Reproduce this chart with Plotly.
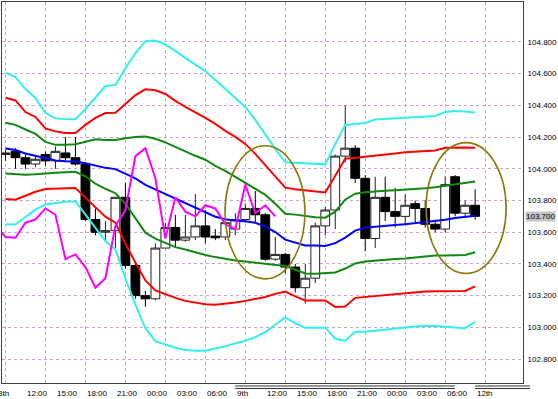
import plotly.graph_objects as go

# ---------------- data ----------------
bars = list(range(48))
opens = [104.09, 104.11, 104.07, 104.03, 104.09, 104.05, 104.10, 104.07, 104.03, 103.68,
         103.60, 103.61, 103.82, 103.39, 103.20, 103.18, 103.50, 103.63, 103.55, 103.57,
         103.64, 103.575, 103.57, 103.62, 103.68, 103.75, 103.71, 103.43, 103.46, 103.38,
         103.25, 103.31, 103.64, 103.74, 104.08, 104.13, 103.94, 103.56, 103.82, 103.73,
         103.70, 103.78, 103.75, 103.65, 103.62, 103.95, 103.72, 103.77]
highs = [104.12, 104.13, 104.09, 104.08, 104.11, 104.14, 104.20, 104.20, 104.04, 103.75,
         103.67, 103.82, 103.91, 103.40, 103.23, 103.53, 103.66, 103.71, 103.71, 103.84,
         103.74, 103.62, 103.68, 103.72, 103.78, 103.86, 103.72, 103.57, 103.47, 103.40,
         103.40, 103.66, 103.76, 104.09, 104.40, 104.15, 103.96, 103.95, 103.95, 103.88,
         103.84, 103.80, 103.80, 103.67, 103.95, 103.96, 103.80, 103.87]
lows = [104.05, 104.00, 104.00, 104.01, 104.02, 104.00, 104.05, 104.02, 103.67, 103.58,
        103.55, 103.50, 103.37, 103.18, 103.13, 103.17, 103.50, 103.50, 103.54, 103.55,
        103.53, 103.55, 103.55, 103.58, 103.66, 103.66, 103.42, 103.42, 103.34, 103.22,
        103.15, 103.28, 103.58, 103.62, 104.04, 103.91, 103.48, 103.50, 103.67, 103.63,
        103.65, 103.66, 103.63, 103.60, 103.60, 103.70, 103.70, 103.68]
closes = [104.10, 104.07, 104.03, 104.06, 104.05, 104.11, 104.07, 104.03, 103.68, 103.60,
          103.61, 103.82, 103.39, 103.20, 103.18, 103.50, 103.63, 103.55, 103.57, 103.64,
          103.57, 103.565, 103.66, 103.68, 103.75, 103.71, 103.43, 103.46, 103.38, 103.25,
          103.31, 103.64, 103.74, 104.08, 104.13, 103.94, 103.56, 103.82, 103.73, 103.70,
          103.77, 103.75, 103.65, 103.62, 103.90, 103.72, 103.77, 103.70]

band_upper3 = [104.607, 104.579, 104.503, 104.447, 104.352, 104.318, 104.314, 104.313, 104.377, 104.447,
               104.522, 104.528, 104.635, 104.730, 104.805, 104.809, 104.784, 104.742, 104.698, 104.657,
               104.616, 104.560, 104.506, 104.447, 104.390, 104.308, 104.214, 104.126, 104.041, 104.038,
               104.035, 104.031, 104.028, 104.157, 104.277, 104.283, 104.289, 104.311, 104.314, 104.321,
               104.324, 104.327, 104.330, 104.333, 104.358, 104.365, 104.362, 104.355]
band_upper2 = [104.448, 104.431, 104.358, 104.327, 104.255, 104.236, 104.226, 104.226, 104.277, 104.321,
               104.352, 104.354, 104.409, 104.465, 104.501, 104.495, 104.472, 104.428, 104.390, 104.358,
               104.321, 104.283, 104.239, 104.201, 104.157, 104.094, 104.025, 103.956, 103.881, 103.871,
               103.865, 103.858, 103.851, 103.956, 104.063, 104.069, 104.075, 104.085, 104.091, 104.097,
               104.104, 104.107, 104.110, 104.116, 104.132, 104.134, 104.135, 104.132]
band_upper1 = [104.291, 104.277, 104.248, 104.220, 104.170, 104.151, 104.151, 104.155, 104.170, 104.186,
               104.182, 104.181, 104.192, 104.201, 104.204, 104.189, 104.167, 104.138, 104.110, 104.082,
               104.057, 104.019, 103.987, 103.950, 103.912, 103.874, 103.836, 103.780, 103.717, 103.711,
               103.701, 103.695, 103.692, 103.730, 103.805, 103.843, 103.852, 103.858, 103.862, 103.865,
               103.868, 103.874, 103.877, 103.884, 103.893, 103.906, 103.912, 103.920]
band_mid = [104.128, 104.118, 104.097, 104.082, 104.066, 104.053, 104.048, 104.046, 104.035, 104.022,
            104.006, 103.998, 103.969, 103.940, 103.899, 103.871, 103.843, 103.814, 103.786, 103.758,
            103.730, 103.698, 103.682, 103.673, 103.669, 103.660, 103.635, 103.601, 103.553, 103.535,
            103.516, 103.516, 103.513, 103.531, 103.566, 103.610, 103.629, 103.635, 103.642, 103.645,
            103.651, 103.657, 103.664, 103.670, 103.679, 103.689, 103.698, 103.704]
band_lower1 = [103.970, 103.967, 103.962, 103.965, 103.972, 103.975, 103.978, 103.981, 103.953, 103.906,
               103.874, 103.846, 103.780, 103.692, 103.597, 103.560, 103.531, 103.506, 103.491, 103.472,
               103.456, 103.443, 103.431, 103.421, 103.415, 103.409, 103.399, 103.393, 103.387, 103.365,
               103.340, 103.338, 103.340, 103.346, 103.371, 103.403, 103.415, 103.421, 103.428, 103.431,
               103.434, 103.440, 103.450, 103.453, 103.453, 103.453, 103.456, 103.474]
band_lower2 = [103.809, 103.805, 103.830, 103.855, 103.872, 103.874, 103.877, 103.879, 103.818, 103.761,
               103.698, 103.660, 103.528, 103.409, 103.296, 103.233, 103.208, 103.186, 103.167, 103.154,
               103.145, 103.143, 103.148, 103.157, 103.167, 103.179, 103.192, 103.211, 103.226, 103.195,
               103.170, 103.170, 103.170, 103.129, 103.132, 103.186, 103.192, 103.198, 103.204, 103.211,
               103.217, 103.223, 103.226, 103.228, 103.228, 103.228, 103.230, 103.258]
band_lower3 = [103.650, 103.648, 103.696, 103.742, 103.775, 103.784, 103.792, 103.795, 103.709, 103.630,
               103.544, 103.491, 103.308, 103.143, 102.994, 102.913, 102.890, 102.871, 102.857, 102.852,
               102.852, 102.866, 102.881, 102.899, 102.916, 102.938, 102.970, 103.016, 103.063, 103.025,
               102.997, 102.997, 102.998, 102.928, 102.915, 102.973, 102.973, 102.979, 102.986, 102.994,
               103.000, 103.006, 103.008, 103.008, 103.003, 102.998, 102.995, 103.035]

lag_bars = list(range(-1, 28))
lag_span = [103.64, 103.57, 103.565, 103.66, 103.68, 103.75, 103.71, 103.43, 103.46, 103.38,
            103.25, 103.31, 103.64, 103.74, 104.08, 104.13, 103.94, 103.56, 103.82, 103.73,
            103.70, 103.77, 103.75, 103.65, 103.62, 103.90, 103.72, 103.77, 103.70]

y_ticks = [102.8, 103.0, 103.2, 103.4, 103.6, 103.8, 104.0, 104.2, 104.4, 104.6, 104.8]
y_tick_labels = ["102.800", "103.000", "103.200", "103.400", "103.600", "103.800",
                 "104.000", "104.200", "104.400", "104.600", "104.800"]
time_label_bars = [-1, 2, 5, 8, 11, 14, 17, 20, 23, 26, 29, 32, 35, 38, 41, 44, 47]
time_labels = ["8th", "12:00", "15:00", "18:00", "21:00", "00:00", "03:00", "06:00", "9th",
               "12:00", "15:00", "18:00", "21:00", "00:00", "03:00", "06:00", "12th"]
last_price = 103.70
last_price_label = "103.700"

# ---------------- figure ----------------
X0, X1 = -0.35, 51.79
Y0, Y1 = 102.649, 105.052
W, H = 558, 399
ML, MR, MT, MB = 2, 31, 1, 16
PW, PH = W - ML - MR, H - MT - MB


def xfrac(k):
    return (k - X0) / (X1 - X0)


def yfrac(v):
    return (v - Y0) / (Y1 - Y0)


FONT = "Liberation Sans Narrow, Liberation Sans, Arial, sans-serif"

fig = go.Figure()
fig.add_trace(go.Candlestick(
    x=bars, open=opens, high=highs, low=lows, close=closes,
    increasing=dict(fillcolor="#ffffff", line=dict(color="#202020", width=1)),
    decreasing=dict(fillcolor="#000000", line=dict(color="#000000", width=1)),
    whiskerwidth=0, hoverinfo="skip", showlegend=False,
))

line_specs = [
    (band_upper3, "#33eeee"), (band_lower3, "#33eeee"),
    (band_upper2, "#ff0000"), (band_lower2, "#ff0000"),
    (band_upper1, "#118811"), (band_lower1, "#118811"),
    (band_mid, "#0000ff"),
]
for vals, col in line_specs:
    fig.add_trace(go.Scatter(x=bars, y=vals, mode="lines",
                             line=dict(color=col, width=2),
                             hoverinfo="skip", showlegend=False))
fig.add_trace(go.Scatter(x=lag_bars, y=lag_span, mode="lines",
                         line=dict(color="#ff00ff", width=2),
                         hoverinfo="skip", showlegend=False))

shapes = [
    dict(type="circle", xref="x", yref="y", x0=21.97, x1=29.97, y0=103.306, y1=104.145,
         line=dict(color="#8a7a0a", width=1.6)),
    dict(type="circle", xref="x", yref="y", x0=42.09, x1=50.10, y0=103.34, y1=104.165,
         line=dict(color="#8a7a0a", width=1.6)),
]
# double separator lines under the date labels
for ka, kb in [(23, 44.97), (47, 52.5)]:
    for dy in (3.0, 5.5):
        shapes.append(dict(type="line", xref="paper", yref="paper",
                           x0=xfrac(ka), x1=xfrac(kb), y0=-dy / PH, y1=-dy / PH,
                           line=dict(color="#333333", width=1)))
# magenta marker beside current price label
shapes.append(dict(type="line", xref="paper", yref="paper",
                   x0=1 + 26.5 / PW, x1=1 + 26.5 / PW,
                   y0=yfrac(last_price) - 5 / PH, y1=yfrac(last_price) + 5 / PH,
                   line=dict(color="#ff00ff", width=1)))

annotations = []
for k, t in zip(time_label_bars, time_labels):
    annotations.append(dict(xref="paper", yref="paper", x=xfrac(k), y=-10.5 / PH,
                            text=t, showarrow=False, xanchor="left", yanchor="middle",
                            font=dict(family=FONT, size=8, color="#000000")))
annotations.append(dict(xref="paper", yref="y", x=1 + 2 / PW, y=last_price,
                        text=last_price_label, showarrow=False, xanchor="left",
                        yanchor="middle", bgcolor="#c4c4c4", borderpad=0,
                        font=dict(family=FONT, size=8, color="#000000")))

fig.update_layout(
    width=W, height=H,
    margin=dict(l=ML, r=MR, t=MT, b=MB, pad=0),
    paper_bgcolor="#ffffff", plot_bgcolor="#ffffff",
    shapes=shapes, annotations=annotations,
    boxgap=0.12, boxgroupgap=0,
    hovermode=False,
    xaxis=dict(range=[X0, X1], tickvals=list(range(0, 52, 4)), showticklabels=False,
               showgrid=True, gridcolor="#a9bcc4", griddash="dot", gridwidth=1,
               zeroline=False, showline=True, mirror=True, linecolor="#404040",
               linewidth=1, ticks="", rangeslider=dict(visible=False), fixedrange=True),
    yaxis=dict(range=[Y0, Y1], side="right", tickvals=y_ticks, ticktext=y_tick_labels,
               showgrid=True, gridcolor="#c9a6c9", griddash="dot", gridwidth=1,
               zeroline=False, showline=True, mirror=True, linecolor="#404040",
               linewidth=1, ticks="", ticklabelstandoff=2,
               tickfont=dict(family=FONT, size=8, color="#000000"), fixedrange=True),
)

fig.write_html("out.html", config=dict(displayModeBar=False, staticPlot=True),
               post_script="document.body.style.margin='0';document.body.style.overflow='hidden';")
